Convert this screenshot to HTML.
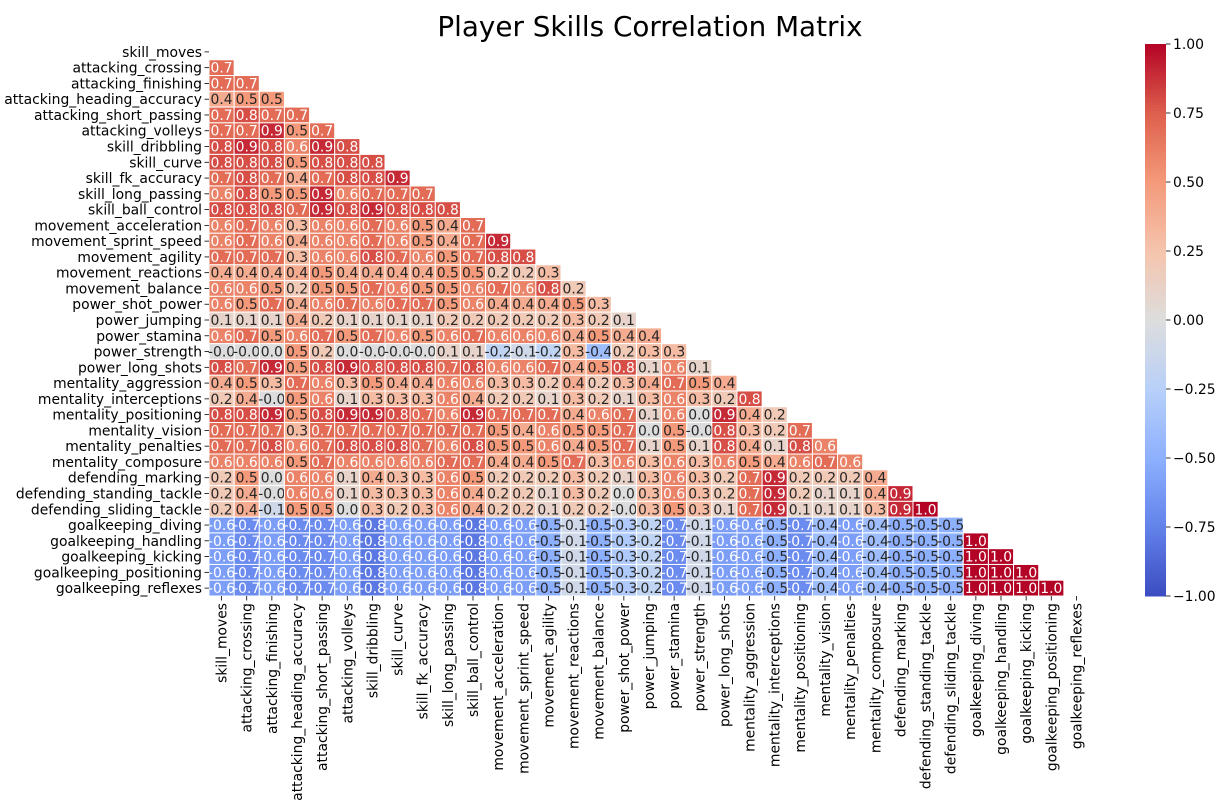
<!DOCTYPE html>
<html><head><meta charset="utf-8"><style>
body{margin:0;background:#fff;}
svg{display:block;font-family:"DejaVu Sans","Liberation Sans",sans-serif;}
</style></head><body>
<svg id="chart" width="1231" height="808">
<text x="650" y="36" text-anchor="middle" font-size="27.8" fill="#000">Player Skills Correlation Matrix</text>
<g id="cells"></g><g id="ylab"></g><g id="xlab"></g><g id="cbar"></g>
</svg>
<script>
const labels=["skill_moves","attacking_crossing","attacking_finishing","attacking_heading_accuracy","attacking_short_passing","attacking_volleys","skill_dribbling","skill_curve","skill_fk_accuracy","skill_long_passing","skill_ball_control","movement_acceleration","movement_sprint_speed","movement_agility","movement_reactions","movement_balance","power_shot_power","power_jumping","power_stamina","power_strength","power_long_shots","mentality_aggression","mentality_interceptions","mentality_positioning","mentality_vision","mentality_penalties","mentality_composure","defending_marking","defending_standing_tackle","defending_sliding_tackle","goalkeeping_diving","goalkeeping_handling","goalkeeping_kicking","goalkeeping_positioning","goalkeeping_reflexes"];
const gkRow=[-0.6,-0.7,-0.6,-0.7,-0.7,-0.6,-0.8,-0.6,-0.6,-0.6,-0.8,-0.6,-0.6,-0.5,-0.1,-0.5,-0.3,-0.2,-0.7,-0.1,-0.6,-0.6,-0.5,-0.7,-0.4,-0.6,-0.4,-0.5,-0.5,-0.5];
const rows=[
[],
[0.7],
[0.7,0.7],
[0.4,0.5,0.5],
[0.7,0.8,0.7,0.7],
[0.7,0.7,0.9,0.5,0.7],
[0.8,0.9,0.8,0.6,0.9,0.8],
[0.8,0.8,0.8,0.5,0.8,0.8,0.8],
[0.7,0.8,0.7,0.4,0.7,0.8,0.8,0.9],
[0.6,0.8,0.5,0.5,0.9,0.6,0.7,0.7,0.7],
[0.8,0.8,0.8,0.7,0.9,0.8,0.9,0.8,0.8,0.8],
[0.6,0.7,0.6,0.3,0.6,0.6,0.7,0.6,0.5,0.4,0.7],
[0.6,0.7,0.6,0.4,0.6,0.6,0.7,0.6,0.5,0.4,0.7,0.9],
[0.7,0.7,0.7,0.3,0.6,0.6,0.8,0.7,0.6,0.5,0.7,0.8,0.8],
[0.4,0.4,0.4,0.4,0.5,0.4,0.4,0.4,0.4,0.5,0.5,0.2,0.2,0.3],
[0.6,0.6,0.5,0.2,0.5,0.5,0.7,0.6,0.5,0.5,0.6,0.7,0.6,0.8,0.2],
[0.6,0.5,0.7,0.4,0.6,0.7,0.6,0.7,0.7,0.5,0.6,0.4,0.4,0.4,0.5,0.3],
[0.1,0.1,0.1,0.4,0.2,0.1,0.1,0.1,0.1,0.2,0.2,0.2,0.2,0.2,0.3,0.2,0.1],
[0.6,0.7,0.5,0.6,0.7,0.5,0.7,0.6,0.5,0.6,0.7,0.6,0.6,0.6,0.4,0.5,0.4,0.4],
[-0.01,-0.01,0.0,0.5,0.2,0.0,-0.01,-0.01,-0.01,0.1,0.1,-0.2,-0.1,-0.2,0.3,-0.4,0.2,0.3,0.3],
[0.8,0.7,0.9,0.5,0.8,0.9,0.8,0.8,0.8,0.7,0.8,0.6,0.6,0.7,0.4,0.5,0.8,0.1,0.6,0.1],
[0.4,0.5,0.3,0.7,0.6,0.3,0.5,0.4,0.4,0.6,0.6,0.3,0.3,0.2,0.4,0.2,0.3,0.4,0.7,0.5,0.4],
[0.2,0.4,-0.01,0.5,0.6,0.1,0.3,0.3,0.3,0.6,0.4,0.2,0.2,0.1,0.3,0.2,0.1,0.3,0.6,0.3,0.2,0.8],
[0.8,0.8,0.9,0.5,0.8,0.9,0.9,0.8,0.7,0.6,0.9,0.7,0.7,0.7,0.4,0.6,0.7,0.1,0.6,0.0,0.9,0.4,0.2],
[0.7,0.7,0.7,0.3,0.7,0.7,0.7,0.7,0.7,0.7,0.7,0.5,0.4,0.6,0.5,0.5,0.7,0.0,0.5,-0.01,0.8,0.3,0.2,0.7],
[0.7,0.7,0.8,0.6,0.7,0.8,0.8,0.8,0.7,0.6,0.8,0.5,0.5,0.6,0.4,0.5,0.7,0.1,0.5,0.1,0.8,0.4,0.1,0.8,0.6],
[0.6,0.6,0.6,0.5,0.7,0.6,0.6,0.6,0.6,0.7,0.7,0.4,0.4,0.5,0.7,0.3,0.6,0.3,0.6,0.3,0.6,0.5,0.4,0.6,0.7,0.6],
[0.2,0.5,0.0,0.6,0.6,0.1,0.4,0.3,0.3,0.6,0.5,0.2,0.2,0.2,0.3,0.2,0.1,0.3,0.6,0.3,0.2,0.7,0.9,0.2,0.2,0.2,0.4],
[0.2,0.4,-0.01,0.6,0.6,0.1,0.3,0.3,0.3,0.6,0.4,0.2,0.2,0.1,0.3,0.2,0.0,0.3,0.6,0.3,0.2,0.7,0.9,0.2,0.1,0.1,0.4,0.9],
[0.2,0.4,-0.1,0.5,0.5,0.0,0.3,0.2,0.3,0.6,0.4,0.2,0.2,0.1,0.2,0.2,-0.01,0.3,0.5,0.3,0.1,0.7,0.9,0.1,0.1,0.1,0.3,0.9,1.0],
gkRow.slice(),
gkRow.concat([1.0]),
gkRow.concat([1.0,1.0]),
gkRow.concat([1.0,1.0,1.0]),
gkRow.concat([1.0,1.0,1.0,1.0])
];
const cbTicks=[-1,-0.75,-0.5,-0.25,0,0.25,0.5,0.75,1];
const cbTickLabels=["−1.00","−0.75","−0.50","−0.25","0.00","0.25","0.50","0.75","1.00"];

const NS="http://www.w3.org/2000/svg";
const L=209,T=44,R=1089,B=596,N=labels.length;
const cw=(R-L)/N,ch=(B-T)/N;
const xPos=j=>L+j*cw, yPos=i=>T+i*ch;
const stops=[[59,76,192],[98,130,234],[141,176,254],[184,208,249],[221,221,221],[245,196,173],[244,154,123],[222,96,77],[180,4,38]];
function cmap(v){let t=(v+1)/2;t=Math.max(0,Math.min(1,t))*8;let k=Math.min(7,Math.floor(t)),f=t-k;
 const a=stops[k],b=stops[k+1];return a.map((c,m)=>Math.round(c+(b[m]-c)*f));}
function lum(c){const l=c.map(x=>{x/=255;return x<=0.03928?x/12.92:Math.pow((x+0.055)/1.055,2.4)});return 0.2126*l[0]+0.7152*l[1]+0.0722*l[2];}
function mk(tag,attrs,parent){const e=document.createElementNS(NS,tag);for(const k in attrs)e.setAttribute(k,attrs[k]);parent.appendChild(e);return e;}
const gc=document.getElementById('cells');
rows.forEach((r,i)=>r.forEach((v,j)=>{
 const c=cmap(v);
 const rect=mk('rect',{x:xPos(j),y:yPos(i),width:cw,height:ch,fill:`rgb(${c})`,stroke:'#fff','stroke-width':1},gc);
 
 
 const s=(Math.abs(v)<0.05&&v<0)?'-0.0':v.toFixed(1);
 const t=mk('text',{x:xPos(j)+cw/2,y:yPos(i)+ch/2+5,'text-anchor':'middle','font-size':13.9,fill:lum(c)>0.408?'#262626':'#fff'},gc);
 t.textContent=s;
 
 
}));
const gy=document.getElementById('ylab'),gx=document.getElementById('xlab');
labels.forEach((lab,i)=>{
 const yc=yPos(i)+ch/2;
 mk('line',{x1:L-4.5,x2:L,y1:yc,y2:yc,stroke:'#000','stroke-width':0.8},gy);
 const t=mk('text',{x:L-7,y:yc+5,'text-anchor':'end','font-size':13.9,fill:'#000'},gy);
 t.textContent=lab;
 
 
 const xc=xPos(i)+cw/2;
 mk('line',{x1:xc,x2:xc,y1:B,y2:B+4.5,stroke:'#000','stroke-width':0.8},gx);
 const u=mk('text',{x:0,y:0,'text-anchor':'end','font-size':13.9,fill:'#000',transform:`translate(${xc+5},${B+7}) rotate(-90)`},gx);
 u.textContent=lab;
 
 
});
const gb=document.getElementById('cbar');
const CX=1145,CW=21;
const cbY=v=>B-(v+1)/2*(B-T);
for(let k=0;k<200;k++){const v0=-1+k*0.01,c=cmap(v0+0.005);
 mk('rect',{x:CX,y:cbY(v0+0.01),width:CW,height:(B-T)/200+0.5,fill:`rgb(${c})`},gb);}
const fr=mk('rect',{x:CX,y:T,width:CW,height:B-T,fill:'none'},gb);


cbTicks.forEach((v,k)=>{const y=cbY(v);
 mk('line',{x1:CX+CW,x2:CX+CW+4.5,y1:y,y2:y,stroke:'#000','stroke-width':0.8},gb);
 const t=mk('text',{x:CX+CW+7,y:y+5,'font-size':13.9,fill:'#000'},gb);
 t.textContent=cbTickLabels[k];
 
 
});
</script>
</body></html>
